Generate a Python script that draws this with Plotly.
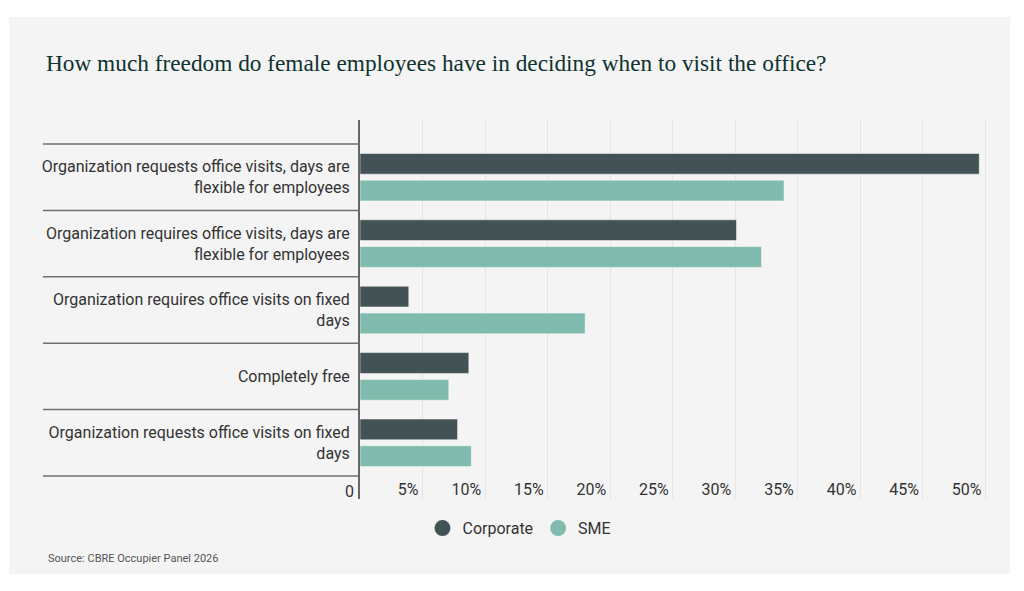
import plotly.graph_objects as go

categories = [
    'Organization requests office visits, days are<br>flexible for employees',
    'Organization requires office visits, days are<br>flexible for employees',
    'Organization requires office visits on fixed<br>days',
    'Completely free',
    'Organization requests office visits on fixed<br>days',
]
corporate = [49.5, 30.1, 3.9, 8.7, 7.8]
sme = [33.9, 32.1, 18.0, 7.1, 8.9]
tick_vals = [0, 5, 10, 15, 20, 25, 30, 35, 40, 45, 50]
tick_text = ['0', '5%', '10%', '15%', '20%', '25%', '30%', '35%', '40%', '45%', '50%']

CORP_COLOR = '#435254'
SME_COLOR = '#80bbad'
PANEL = '#f4f4f4'
TEXT = '#333333'
FONT = 'Roboto'

fig = go.Figure()
fig.add_trace(go.Bar(y=categories, x=corporate, orientation='h', name='Corporate',
                     marker=dict(color=CORP_COLOR, line=dict(color='#ffffff', width=0.5)),
                     showlegend=False))
fig.add_trace(go.Bar(y=categories, x=sme, orientation='h', name='SME',
                     marker=dict(color=SME_COLOR, line=dict(color='#ffffff', width=0.5)),
                     showlegend=False))
# legend entries with round markers
fig.add_trace(go.Scatter(x=[None], y=[None], mode='markers', name='Corporate',
                         marker=dict(color=CORP_COLOR, size=16, symbol='circle')))
fig.add_trace(go.Scatter(x=[None], y=[None], mode='markers', name='SME',
                         marker=dict(color=SME_COLOR, size=16, symbol='circle')))

# grey panel behind the chart
fig.add_shape(type='rect', xref='paper', yref='paper', x0=-0.550, x1=1.019, y0=-0.198, y1=1.272,
              fillcolor=PANEL, line=dict(width=0), layer='below')
# separator lines between the category labels
for i in range(len(categories) + 1):
    fig.add_shape(type='line', xref='paper', yref='y', x0=-0.497, x1=0, y0=i - 0.5, y1=i - 0.5,
                  line=dict(color='#707070', width=1.5))

# "0" label sits left of the axis line
fig.add_annotation(text=tick_text[0], xref='x', yref='paper', x=tick_vals[0], y=0.02,
                   xanchor='right', yanchor='middle', xshift=-4, showarrow=False,
                   font=dict(family=FONT, size=16, color=TEXT))

fig.add_annotation(text='Source: CBRE Occupier Panel 2026', xref='paper', yref='paper',
                   x=-0.492, y=-0.156, xanchor='left', yanchor='middle', showarrow=False,
                   font=dict(family=FONT, size=11, color='#555555'))

fig.update_layout(
    width=1016, height=583,
    margin=dict(l=352, r=26, t=112, b=92),
    paper_bgcolor='#ffffff',
    plot_bgcolor=PANEL,
    title=dict(text='How much freedom do female employees have in deciding when to visit the office?',
               x=38 / 1016, xanchor='left', xref='container',
               y=1 - 55 / 583, yanchor='middle', yref='container',
               font=dict(family='Liberation Serif', size=23.3, color='#0f3331')),
    font=dict(family=FONT, size=16, color=TEXT),
    barmode='group',
    bargap=0.193,
    bargroupgap=0.224,
    legend=dict(orientation='h', x=0.25, xanchor='center', y=-0.077, yanchor='middle',
                font=dict(family=FONT, size=16, color=TEXT), bgcolor='rgba(0,0,0,0)'),
    xaxis=dict(range=[0, 51], tickvals=tick_vals, ticktext=tick_text,
               showgrid=True, gridcolor='#e4e4e4', gridwidth=1, zeroline=False,
               showline=False, ticks='', ticklabelposition='inside left',
               ticklabelstandoff=-5, ticklabelshift=-4,
               tickfont=dict(family=FONT, size=16, color=TEXT)),
    yaxis=dict(categoryorder='array', categoryarray=categories, range=[4.846, -0.861],
               showgrid=False, zeroline=False, showline=True, linecolor='#666666', linewidth=2,
               ticks='', ticklabelstandoff=5,
               tickfont=dict(family=FONT, size=16, color=TEXT)),
)

fig.write_html('out.html')
